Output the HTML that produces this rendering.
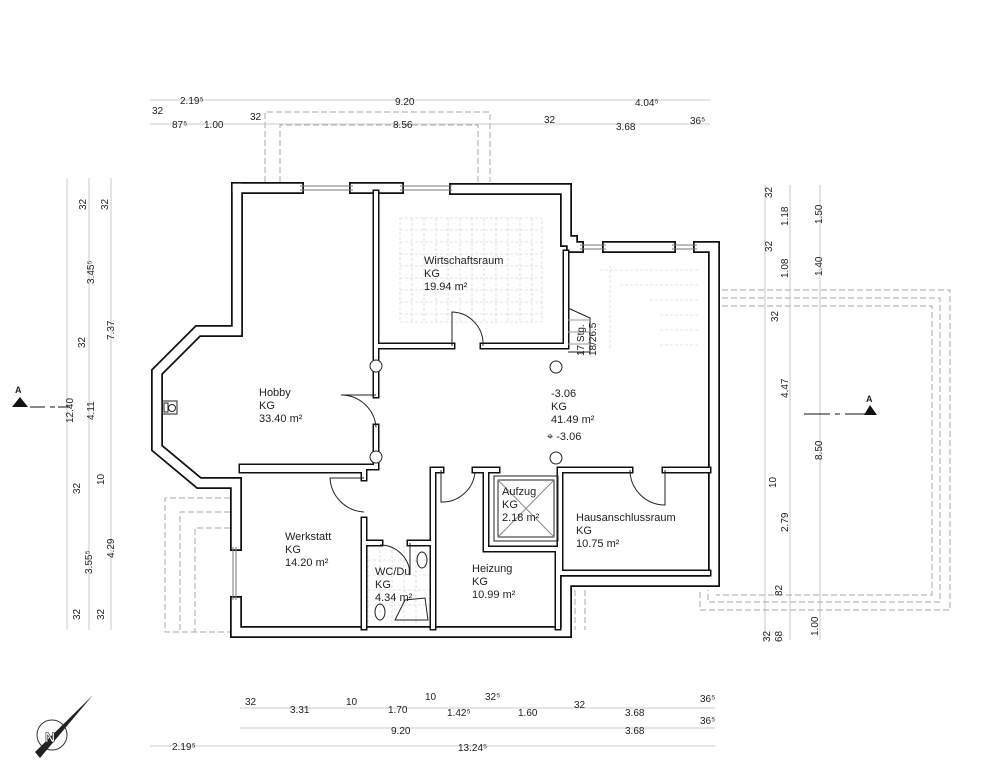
<!DOCTYPE html>
<html><head><meta charset="utf-8"><style>
html,body{margin:0;padding:0;background:#fff}
svg{display:block}
text{font-family:"Liberation Sans",sans-serif;fill:#222}
.d{font-size:10px;fill:#333}
.r{font-size:11px;fill:#111}
</style></head><body>
<svg width="1000" height="768" viewBox="0 0 1000 768" xmlns="http://www.w3.org/2000/svg">
<rect width="1000" height="768" fill="#fff"/>

<!-- dashed outlines -->
<g fill="none" stroke="#aaa" stroke-width="1" stroke-dasharray="6,3">
<path d="M265,182 V112 H490 V182"/>
<path d="M280,182 V125 H478 V182"/>
<path d="M722,290 H950 V610 H700 V590"/>
<path d="M722,298 H940 V602 H708 V590"/>
<path d="M722,306 H932 V595 H716"/>
<path d="M230,498 H165 V632 H230"/>
<path d="M230,512 H180 V632"/>
<path d="M230,528 H195 V632"/>
<path d="M575,590 V630"/>
<path d="M585,590 V630"/>
</g>
<!-- tiles -->
<g stroke="#ccc" stroke-width="0.6" fill="none" stroke-dasharray="3,2">
<rect x="400" y="218" width="142" height="104"/>
<path d="M412,218V322M424,218V322M436,218V322M448,218V322M460,218V322M472,218V322M484,218V322M496,218V322M508,218V322M520,218V322M532,218V322M400,230H542M400,242H542M400,254H542M400,266H542M400,278H542M400,290H542M400,302H542M400,314H542"/>
<path d="M368,545V625M380,545V625M392,545V625M404,545V625M416,545V625M368,560H431M368,575H431M368,590H431M368,605H431"/>
<path d="M600,270H700M620,285H700M650,300H700M660,315H700M660,330H700M660,345H700M610,265V350"/>
</g>

<!-- walls: black then white -->
<g fill="none" stroke-linejoin="miter" stroke-linecap="square">
<g stroke="#111" stroke-width="12">
<path d="M237,188 H298"/><path d="M355,188 H398"/><path d="M455,189 H566 V241 H572"/>
<path d="M572,247 H578"/><path d="M608,247 H670"/><path d="M699,247 H714 V581 H566 V632 H236 V602"/>
<path d="M236,545 V483 H199 L157,448 V372 L198,331 H237 V188"/>
</g>
<g stroke="#fff" stroke-width="8.5">
<path d="M237,188 H298"/><path d="M355,188 H398"/><path d="M455,189 H566 V241 H572"/>
<path d="M572,247 H578"/><path d="M608,247 H670"/><path d="M699,247 H714 V581 H566 V632 H236 V602"/>
<path d="M236,545 V483 H199 L157,448 V372 L198,331 H237 V188"/>
</g>
<g stroke="#111" stroke-width="7">
<path d="M376,193 V395"/><path d="M376,427 V467 H242"/><path d="M376,346 H452"/><path d="M483,346 H566 V253"/>
<path d="M242,470 H364 V478"/><path d="M364,520 V627"/><path d="M364,543 H380"/><path d="M410,543 H433"/>
<path d="M433,470 V627"/><path d="M433,470 H441"/><path d="M475,470 H497"/><path d="M486,470 V549 H560 V470"/>
<path d="M560,470 H630"/><path d="M665,470 H708"/><path d="M560,470 V573 H708"/><path d="M558,549 V627"/>
</g>
<g stroke="#fff" stroke-width="4">
<path d="M376,193 V395"/><path d="M376,427 V467 H242"/><path d="M376,346 H452"/><path d="M483,346 H566 V253"/>
<path d="M242,470 H364 V478"/><path d="M364,520 V627"/><path d="M364,543 H380"/><path d="M410,543 H433"/>
<path d="M433,470 V627"/><path d="M433,470 H441"/><path d="M475,470 H497"/><path d="M486,470 V549 H560 V470"/>
<path d="M560,470 H630"/><path d="M665,470 H708"/><path d="M560,470 V573 H708"/><path d="M558,549 V627"/>
</g>
</g>
<!-- windows -->
<g stroke="#777" stroke-width="1">
<path d="M300,186H353M300,190H353M400,186H452M400,190H452M580,245H606M580,249H606M672,245H697M672,249H697M236,547V600M233,547V600"/>
</g>
<!-- doors -->
<g fill="none" stroke="#222" stroke-width="1">
<path d="M452,346 V312 A32,32 0 0 1 483,346"/>
<path d="M376,395 H341 A35,35 0 0 1 376,427" />
<path d="M364,478 H330 A36,36 0 0 0 364,512"/>
<path d="M410,543 V575 A30,30 0 0 0 380,545"/>
<path d="M441,470 V502 A33,33 0 0 0 475,472"/>
<path d="M665,470 V505 A35,35 0 0 1 630,470"/>
<circle cx="376" cy="366" r="6" fill="#fff"/><circle cx="376" cy="457" r="6" fill="#fff"/>
<circle cx="556" cy="367" r="6"/><circle cx="556" cy="458" r="6"/>
<rect x="498" y="480" width="56" height="57"/><rect x="494" y="476" width="64" height="65"/>
<path d="M498,480 L554,537 M554,480 L498,537" stroke="#888"/>
<rect x="162" y="401" width="15" height="13"/><rect x="164" y="403" width="4" height="9"/><circle cx="172" cy="408" r="3.5"/>
<path d="M568,308 L590,318 V352 H568"/><path d="M568,320H590M568,332H590M568,344H590" stroke="#999"/>
<ellipse cx="422" cy="560" rx="5" ry="8"/><ellipse cx="380" cy="612" rx="5" ry="8"/>
<path d="M395,620 L405,600 L425,598 L428,620 Z"/>
</g>

<!-- room labels -->
<g class="r">
<text x="424" y="264">Wirtschaftsraum</text><text x="424" y="277">KG</text><text x="424" y="290">19.94 m²</text>
<text x="259" y="396">Hobby</text><text x="259" y="409">KG</text><text x="259" y="422">33.40 m²</text>
<text x="551" y="397">-3.06</text><text x="551" y="410">KG</text><text x="551" y="423">41.49 m²</text>
<text x="547" y="440">⌖ -3.06</text>
<text x="285" y="540">Werkstatt</text><text x="285" y="553">KG</text><text x="285" y="566">14.20 m²</text>
<text x="375" y="575">WC/Du</text><text x="375" y="588">KG</text><text x="375" y="601">4.34 m²</text>
<text x="472" y="572">Heizung</text><text x="472" y="585">KG</text><text x="472" y="598">10.99 m²</text>
<text x="502" y="495">Aufzug</text><text x="502" y="508">KG</text><text x="502" y="521">2.18 m²</text>
<text x="576" y="521">Hausanschlussraum</text><text x="576" y="534">KG</text><text x="576" y="547">10.75 m²</text>
<text x="0" y="0" transform="translate(584,356) rotate(-90)" style="font-size:10px">17 Stg.</text>
<text x="0" y="0" transform="translate(596,356) rotate(-90)" style="font-size:10px">18/26.5</text>
</g>

<!-- dimension lines -->
<g stroke="#bbb" stroke-width="0.8" fill="none">
<path d="M150,100H710M150,124H710M240,708H715M240,728H715M150,746H715"/>
<path d="M67,178V630M89,178V630M111,178V630"/>
<path d="M765,185V640M790,185V640M820,185V640"/>
</g>
<g class="d">
<text x="152" y="114">32</text><text x="180" y="104">2.19⁵</text><text x="395" y="105">9.20</text><text x="635" y="106">4.04⁵</text>
<text x="172" y="128">87⁵</text><text x="204" y="128">1.00</text><text x="250" y="120">32</text><text x="393" y="128">8.56</text>
<text x="544" y="123">32</text><text x="616" y="130">3.68</text><text x="690" y="124">36⁵</text>
<text x="245" y="705">32</text><text x="290" y="713">3.31</text><text x="346" y="705">10</text><text x="388" y="713">1.70</text>
<text x="425" y="700">10</text><text x="447" y="716">1.42⁵</text><text x="485" y="700">32⁵</text><text x="518" y="716">1.60</text>
<text x="574" y="708">32</text><text x="625" y="716">3.68</text><text x="700" y="702">36⁵</text>
<text x="391" y="734">9.20</text><text x="625" y="734">3.68</text><text x="700" y="724">36⁵</text>
<text x="172" y="750">2.19⁵</text><text x="458" y="751">13.24⁵</text>
</g>
<g class="d">
<text transform="translate(86,210) rotate(-90)">32</text>
<text transform="translate(108,210) rotate(-90)">32</text>
<text transform="translate(94,284) rotate(-90)">3.45⁵</text>
<text transform="translate(114,340) rotate(-90)">7.37</text>
<text transform="translate(85,348) rotate(-90)">32</text>
<text transform="translate(73,423) rotate(-90)">12.40</text>
<text transform="translate(94,420) rotate(-90)">4.11</text>
<text transform="translate(104,485) rotate(-90)">10</text>
<text transform="translate(80,494) rotate(-90)">32</text>
<text transform="translate(92,574) rotate(-90)">3.55⁵</text>
<text transform="translate(114,558) rotate(-90)">4.29</text>
<text transform="translate(80,620) rotate(-90)">32</text>
<text transform="translate(104,620) rotate(-90)">32</text>
<text transform="translate(772,198) rotate(-90)">32</text>
<text transform="translate(788,226) rotate(-90)">1.18</text>
<text transform="translate(822,224) rotate(-90)">1.50</text>
<text transform="translate(772,252) rotate(-90)">32</text>
<text transform="translate(788,278) rotate(-90)">1.08</text>
<text transform="translate(822,276) rotate(-90)">1.40</text>
<text transform="translate(778,322) rotate(-90)">32</text>
<text transform="translate(788,398) rotate(-90)">4.47</text>
<text transform="translate(822,460) rotate(-90)">8.50</text>
<text transform="translate(776,488) rotate(-90)">10</text>
<text transform="translate(788,532) rotate(-90)">2.79</text>
<text transform="translate(782,596) rotate(-90)">82</text>
<text transform="translate(770,642) rotate(-90)">32</text>
<text transform="translate(782,642) rotate(-90)">68</text>
<text transform="translate(818,636) rotate(-90)">1.00</text>
</g>

<!-- section markers -->
<g>
<text x="15" y="393" style="font-size:9px;font-weight:bold">A</text>
<path d="M12,407 L20,397 L28,407 Z" fill="#111"/>
<path d="M30,407H45M50,407H55M58,407H70" stroke="#111"/>
<text x="866" y="402" style="font-size:9px;font-weight:bold">A</text>
<path d="M864,415 L870,405 L877,415 Z" fill="#111"/>
<path d="M804,414H830M835,414H840M845,414H875" stroke="#111"/>
</g>
<!-- north arrow -->
<g>
<circle cx="52" cy="735" r="15" fill="none" stroke="#333"/>
<path d="M93,695 L35,752 L40,758 Z" fill="#222"/>
<text x="45" y="742" style="font-size:14px;font-weight:bold;fill:#fff;stroke:#222;stroke-width:0.6">N</text>
</g>
</svg>
</body></html>
